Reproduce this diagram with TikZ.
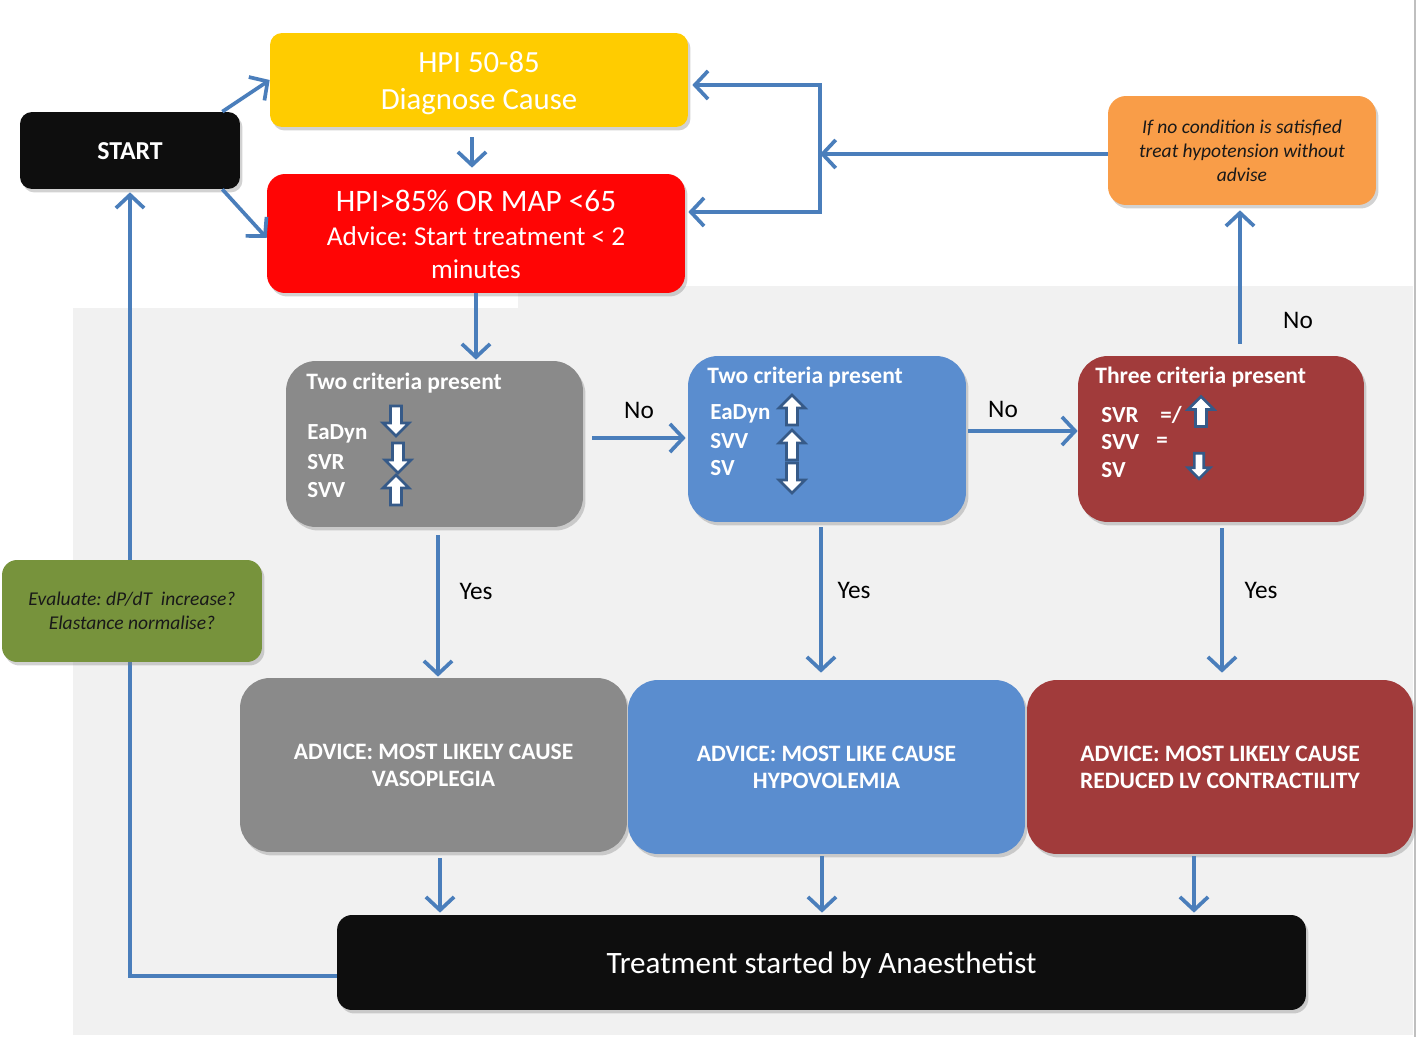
\documentclass[tikz,border=0pt]{standalone}
\usepackage{fontspec}
\setmainfont{Carlito}
\usetikzlibrary{arrows.meta,shadows}
\definecolor{conncol}{HTML}{4A7EBB}
\definecolor{bgcol}{HTML}{F1F1F1}
\definecolor{yelcol}{HTML}{FFCC00}
\definecolor{redcol}{HTML}{FF0505}
\definecolor{orgcol}{HTML}{F99D48}
\definecolor{grycol}{HTML}{8A8A8A}
\definecolor{blucol}{HTML}{5A8DCF}
\definecolor{drkred}{HTML}{A13B3B}
\definecolor{grncol}{HTML}{77933C}
\definecolor{blkcol}{HTML}{0E0E0E}
\definecolor{arrline}{HTML}{365A88}
\newcommand{\fsz}[2]{\fontsize{#1}{#2}\selectfont}
\newcommand{\lowerby}[2]{\raisebox{-#1}[\height][\depth]{#2}}
\frenchspacing
\begin{document}
\begin{tikzpicture}[x=0.02cm,y=-0.02cm,
  basebox/.style={draw=none, inner sep=0pt, align=center, text=white,
    drop shadow={shadow xshift=0.05cm, shadow yshift=-0.07cm, opacity=0.35}},
  conn/.style={draw=conncol, line width=2.1pt, -{Straight Barb[length=7.5pt,width=16pt,line width=2.1pt]}},
  plainconn/.style={draw=conncol, line width=2.1pt},
  blockarr/.style={draw=arrline, fill=white, line width=1.5pt, line join=miter},
  crittitle/.style={inner sep=0pt, text=white, font=\bfseries\fsz{13.4}{15}},
  crititem/.style={inner sep=0pt, text=white, font=\bfseries\fsz{13.1}{15}},
  lbl/.style={inner sep=0pt, text=black, font=\fsz{14.4}{17}},
  uparrow/.pic={\path[blockarr] (0,-15) -- (13,-2) -- (5.5,-2) -- (5.5,15) -- (-5.5,15) -- (-5.5,-2) -- (-13,-2) -- cycle;},
  downarrow/.pic={\path[blockarr] (0,15) -- (13,2) -- (5.5,2) -- (5.5,-15) -- (-5.5,-15) -- (-5.5,2) -- (-13,2) -- cycle;}
]
\useasboundingbox (0,0) rectangle (1418,1037);
% background
\fill[white] (0,0) rectangle (1418,1037);
\fill[bgcol] (73,308) rectangle (1413,1035);
\fill[bgcol] (518,286) rectangle (1413,308);
\draw[black!25, line width=0.6pt] (1415,0) -- (1415,1037);

% nodes
\node[basebox, fill=blkcol, rounded corners=0.24cm, minimum width=4.4cm, minimum height=1.54cm,
  font=\bfseries\fsz{14.7}{17}] (start) at (130,150.5) {\lowerby{0.02cm}{START}};
\node[basebox, fill=yelcol, rounded corners=0.24cm, minimum width=8.36cm, minimum height=1.88cm,
  font=\fsz{17.5}{21}] (hpi) at (479,80) {\lowerby{0.06cm}{\parbox{8cm}{\centering HPI 50-85\\Diagnose Cause}}};
\node[basebox, fill=redcol, rounded corners=0.36cm, minimum width=8.36cm, minimum height=2.38cm,
  font=\fsz{15.5}{19}] (alarm) at (476,233.5) {\lowerby{0.02cm}{\parbox{8cm}{\centering {\fsz{17.8}{19}HPI>85\% OR MAP <65}\\Advice: Start treatment < 2\\minutes}}};
\node[basebox, fill=orgcol, rounded corners=0.36cm, minimum width=5.36cm, minimum height=2.18cm,
  text=black!90, font=\itshape\fsz{11.1}{13.6}] (orange) at (1242,150.5)
  {If no condition is satisfied\\treat hypotension without\\advise};

\node[basebox, fill=grycol, rounded corners=0.6cm, minimum width=5.94cm, minimum height=3.32cm] (crit1) at (434.5,444) {};
\node[basebox, fill=blucol, rounded corners=0.6cm, minimum width=5.56cm, minimum height=3.32cm] (crit2) at (827,439) {};
\node[basebox, fill=drkred, rounded corners=0.6cm, minimum width=5.72cm, minimum height=3.32cm] (crit3) at (1221,439) {};

\node[basebox, fill=grycol, rounded corners=0.6cm, minimum width=7.74cm, minimum height=3.48cm,
  font=\bfseries\fsz{13.4}{15.3}] (adv1) at (433.5,765) {ADVICE: MOST LIKELY CAUSE\\VASOPLEGIA};
\node[basebox, fill=blucol, rounded corners=0.6cm, minimum width=7.94cm, minimum height=3.48cm,
  font=\bfseries\fsz{13.4}{15.3}] (adv2) at (826.5,767) {ADVICE: MOST LIKE CAUSE\\HYPOVOLEMIA};
\node[basebox, fill=drkred, rounded corners=0.6cm, minimum width=7.72cm, minimum height=3.48cm,
  font=\bfseries\fsz{13.4}{15.3}] (adv3) at (1220,767) {ADVICE: MOST LIKELY CAUSE\\REDUCED LV CONTRACTILITY};
\node[basebox, fill=blkcol, rounded corners=0.3cm, minimum width=19.38cm, minimum height=1.9cm,
  font=\fsz{17.7}{20}] (treat) at (821.5,962.5) {\lowerby{0.06cm}{Treatment started by Anaesthetist}};

% criteria contents
\node[crittitle, anchor=west] (c1t) at (306,383) {Two criteria present};
\node[crititem, anchor=west] (c1a) at (307,434) {EaDyn};
\node[crititem, anchor=west] (c1b) at (307,462) {SVR};
\node[crititem, anchor=west] (c1c) at (307,490) {SVV};
\pic at (396,421) {downarrow};
\pic at (398,458) {downarrow};
\pic at (396,490) {uparrow};

\node[crittitle, anchor=west] (c2t) at (707,377) {Two criteria present};
\node[crititem, anchor=west] (c2a) at (710,414) {EaDyn};
\node[crititem, anchor=west] (c2b) at (710,441) {SVV};
\node[crititem, anchor=west] (c2c) at (710,468) {SV};
\pic at (792,410) {uparrow};
\pic at (792,445) {uparrow};
\pic at (792,478) {downarrow};

\node[crittitle, anchor=west] (c3t) at (1095,377) {Three criteria present};
\node[crititem, anchor=west] (c3a) at (1101,415) {SVR};
\node[crititem, anchor=west] (c3b) at (1101,442) {SVV};
\node[crititem, anchor=west] (c3c) at (1101,470) {SV};
\node[crititem, anchor=west] (c3d) at (1160,415) {=/};
\node[crititem, anchor=west] (c3e) at (1156,442) {=};
\pic at (1201,411.5) {uparrow};
\pic[scale=0.85] at (1199,466) {downarrow};

% connectors
\draw[conn] ([xshift=-0.36cm]start.north east) -- ([yshift=0.0cm]hpi.west);
\draw[conn] ([xshift=-0.36cm]start.south east) -- ([yshift=-0.09cm]alarm.west);
\draw[conn, shorten <=0.2cm, shorten >=0.12cm] ([xshift=-0.14cm]hpi.south) -- ([xshift=-0.14cm]hpi.south |- alarm.north);
\draw[conn, shorten >=0.02cm] (alarm.south) -- (alarm.south |- crit1.north);

\coordinate (j1) at (820,85);
\coordinate (j2) at (820,212);
\coordinate (jm) at (820,154);
\draw[plainconn, line cap=rect] (j1) -- (j2);
\draw[conn, shorten >=0.08cm] (j1) -- (j1 -| hpi.east);
\draw[conn, shorten >=0.06cm] (j2) -- (j2 -| alarm.east);
\draw[conn] ([yshift=-0.07cm]orange.west) -- ([yshift=-0.07cm]orange.west -| jm);

\draw[conn, shorten <=0.18cm, shorten >=0.04cm] ([yshift=0.12cm]crit1.east) -- ([yshift=0.12cm]crit1.east -| crit2.west);
\draw[conn, shorten <=0.04cm] ([yshift=0.16cm]crit2.east) -- ([yshift=0.16cm]crit2.east -| crit3.west);
\draw[conn, shorten <=0.24cm, shorten >=0.1cm] ([xshift=0.38cm]crit3.north) -- ([xshift=0.38cm]crit3.north |- orange.south);

\draw[conn, shorten <=0.16cm, shorten >=0.02cm] ([xshift=0.07cm]crit1.south) -- ([xshift=0.07cm]crit1.south |- adv1.north);
\draw[conn, shorten <=0.1cm, shorten >=0.14cm] ([xshift=-0.12cm]crit2.south) -- ([xshift=-0.12cm]crit2.south |- adv2.north);
\draw[conn, shorten <=0.12cm, shorten >=0.14cm] ([xshift=0.02cm]crit3.south) -- ([xshift=0.02cm]crit3.south |- adv3.north);

\draw[conn, shorten <=0.12cm, shorten >=0.04cm] ([xshift=0.13cm]adv1.south) -- ([xshift=0.13cm]adv1.south |- treat.north);
\draw[conn, shorten <=0.04cm, shorten >=0.04cm] ([xshift=-0.09cm]adv2.south) -- ([xshift=-0.09cm]adv2.south |- treat.north);
\draw[conn, shorten <=0.04cm, shorten >=0.04cm] ([xshift=-0.52cm]adv3.south) -- ([xshift=-0.52cm]adv3.south |- treat.north);

\draw[conn, shorten >=0.06cm] ([yshift=-0.27cm]treat.west) -| (start.south);

% green box over the loop line
\node[basebox, fill=grncol, rounded corners=0.3cm, minimum width=5.2cm, minimum height=2.04cm,
  text=black!90, font=\itshape\fsz{11.1}{13.6}] (green) at (132,611)
  {Evaluate: dP/dT\ \ increase?\\Elastance normalise?};

% labels
\node[lbl] (no1) at (639,410) {No};
\node[lbl] (no2) at (1003,409) {No};
\node[lbl] (no3) at (1298,320) {No};
\node[lbl] (yes1) at (476,591) {Yes};
\node[lbl] (yes2) at (854,590) {Yes};
\node[lbl] (yes3) at (1261,590) {Yes};
\end{tikzpicture}
\end{document}
